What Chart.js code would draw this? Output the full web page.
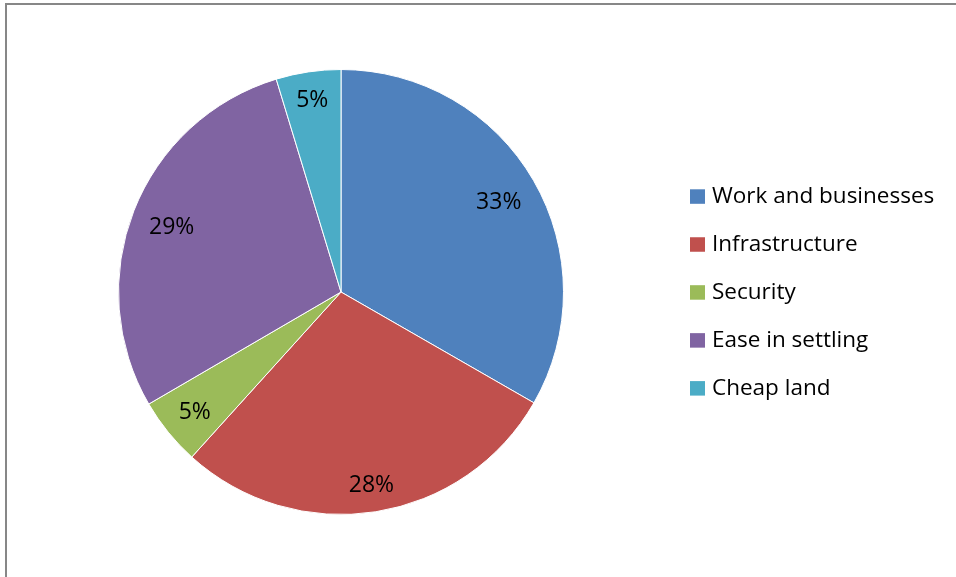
<!DOCTYPE html>
<html>
<head>
<meta charset="utf-8">
<script src="https://cdn.jsdelivr.net/npm/chart.js@4/dist/chart.umd.min.js"></script>
<style>
  html, body { margin: 0; padding: 0; background: #fff; }
  #wrap { position: relative; width: 956px; height: 577px; overflow: hidden; }
  #frame { position: absolute; left: 5px; top: 3px; width: 1000px; height: 1000px;
           border-top: 2px solid #878787; border-left: 2px solid #878787; box-sizing: border-box; }
  canvas { position: absolute; left: 0; top: 0; }
</style>
</head>
<body>
<div id="wrap">
  <div id="frame"></div>
  <canvas id="c" width="956" height="577"></canvas>
</div>
<script>
const categories = ["Work and businesses", "Infrastructure", "Security", "Ease in settling", "Cheap land"];
const shares = [33.3, 28.4, 4.9, 28.7, 4.7];
const sliceColors = ["#4F81BD", "#C0504D", "#9BBB59", "#8064A2", "#4BACC6"];

const FONT = "'Open Sans', Lato, sans-serif";

const percentLabels = {
  id: 'percentLabels',
  afterDatasetsDraw(chart) {
    const ctx = chart.ctx;
    const meta = chart.getDatasetMeta(0);
    const data = chart.data.datasets[0].data;
    const total = data.reduce((a, b) => a + b, 0);
    const fs = 23;
    ctx.save();
    ctx.font = fs + "px " + FONT;
    ctx.fillStyle = "#000";
    ctx.textAlign = "center";
    ctx.textBaseline = "alphabetic";
    const h = fs * 0.714;
    meta.data.forEach((arc, i) => {
      const p = arc.getProps(['x', 'y', 'startAngle', 'endAngle', 'outerRadius'], true);
      const mid = (p.startAngle + p.endAngle) / 2;
      const txt = Math.round(data[i] / total * 100) + "%";
      const w = ctx.measureText(txt).width;
      const c = Math.cos(mid), s = Math.sin(mid);
      const r = p.outerRadius - 0.5 * (Math.abs(c) * w + Math.abs(s) * h) - 16.5;
      const cx = p.x + c * r, cy = p.y + s * r;
      ctx.fillText(txt, cx, cy + h / 2);
    });
    ctx.restore();
  }
};

const sideLegend = {
  id: 'sideLegend',
  afterDraw(chart) {
    const ctx = chart.ctx;
    const labels = chart.data.labels;
    const colors = chart.data.datasets[0].backgroundColor;
    const x0 = 690, y0 = 196.3, step = 47.95, box = 15;
    ctx.save();
    ctx.font = "22.5px " + FONT;
    ctx.textBaseline = "alphabetic";
    ctx.textAlign = "left";
    labels.forEach((lab, i) => {
      const y = y0 + i * step;
      ctx.fillStyle = colors[i];
      ctx.fillRect(x0, y - 7, box, 14.5);
      ctx.fillStyle = "#000";
      ctx.fillText(lab, x0 + 22, y + 6.5);
    });
    ctx.restore();
  }
};

new Chart(document.getElementById('c'), {
  type: 'pie',
  data: {
    labels: categories,
    datasets: [{
      data: shares,
      backgroundColor: sliceColors,
      borderColor: "#ffffff",
      borderWidth: 1
    }]
  },
  options: {
    responsive: false,
    animation: false,
    layout: { padding: { top: 69, bottom: 62, left: 118, right: 392 } },
    plugins: {
      legend: { display: false },
      tooltip: { enabled: false }
    }
  },
  plugins: [percentLabels, sideLegend]
});
</script>
</body>
</html>
